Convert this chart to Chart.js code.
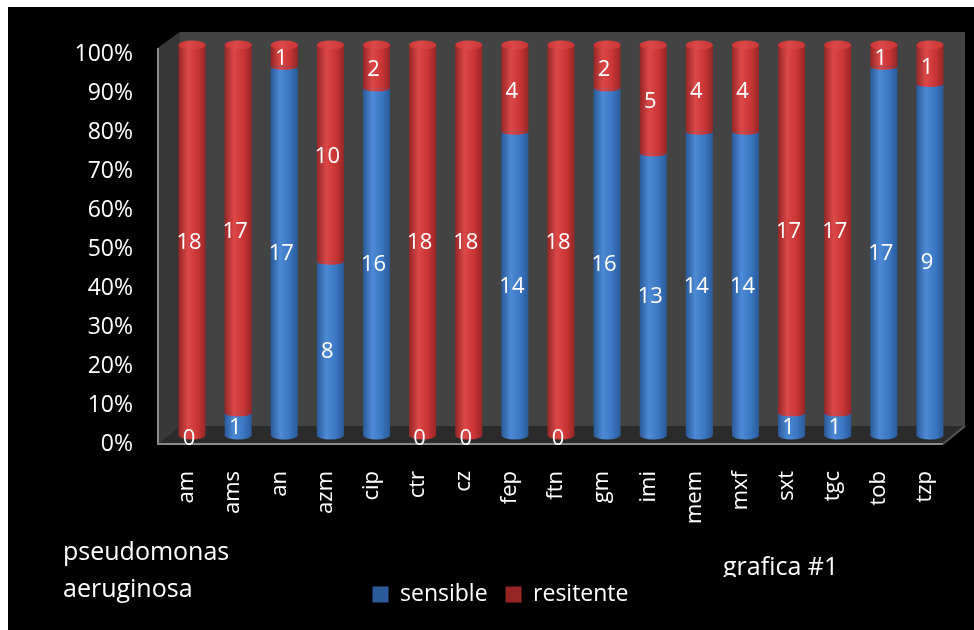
<!DOCTYPE html>
<html>
<head>
<meta charset="utf-8">
<script src="https://cdn.jsdelivr.net/npm/chart.js@4.4.1/dist/chart.umd.min.js"></script>
<style>
  html, body { margin: 0; padding: 0; background: #ffffff; }
  #frame { position: absolute; left: 8px; top: 7px; width: 966px; height: 623px; background: #000000; }
  #c { display: block; }
</style>
</head>
<body>
<div id="frame"><canvas id="c" width="966" height="623"></canvas></div>
<script>
// antibiotic codes
const categories = ['am', 'ams', 'an', 'azm', 'cip', 'ctr', 'cz', 'fep', 'ftn', 'gm', 'imi', 'mem', 'mxf', 'sxt', 'tgc', 'tob', 'tzp'];
// isolate counts per antibiotic
const sensible   = [0, 1, 17, 8, 16, 0, 0, 14, 0, 16, 13, 14, 14, 1, 1, 17, 9];
const resitente  = [18, 17, 1, 10, 2, 18, 18, 4, 18, 2, 5, 4, 4, 17, 17, 1, 1];
const seriesNames = ['sensible', 'resitente'];
const yTicks = [0, 10, 20, 30, 40, 50, 60, 70, 80, 90, 100];
const titleLines = ['pseudomonas', 'aeruginosa'];
const captionText = 'grafica #1';

const FONT = '"Open Sans", "Noto Sans", sans-serif';
const BAR_PCT = 0.586;

// share of each series in its column (100% stacked)
const totals = categories.map((_, i) => sensible[i] + resitente[i]);
const sensPct = sensible.map((v, i) => v / totals[i] * 100);
const resPct = resitente.map((v, i) => v / totals[i] * 100);
const counts = [sensible, resitente];

const palettes = [
  { base: '#3a76c2', dark: '#2a5a98', light: '#4d8ad6' },
  { base: '#c93535', dark: '#962626', light: '#dc4848' }
];

function cylGradient(chart, cx, w, pal) {
  const g = chart.ctx.createLinearGradient(cx - w / 2, 0, cx + w / 2, 0);
  g.addColorStop(0, pal.dark);
  g.addColorStop(0.35, pal.light);
  g.addColorStop(0.7, pal.base);
  g.addColorStop(1, pal.dark);
  return g;
}

function cylFill(pal) {
  return (ctx) => {
    const chart = ctx.chart;
    const xs = chart.scales && chart.scales.x;
    if (ctx.type !== 'data' || !xs || !xs.width) return pal.base;
    const cx = xs.getPixelForValue(ctx.dataIndex);
    const w = xs.width / categories.length * BAR_PCT;
    return cylGradient(chart, cx, w, pal);
  };
}

// gray 3D box behind the columns
const wallsPlugin = {
  id: 'walls',
  beforeDatasetsDraw(chart) {
    const { ctx, chartArea: a } = chart;
    const lx = a.left - 11, topL = a.top + 3, backTop = a.top - 13;
    const backL = lx + 22, backR = a.right + 12, backB = a.bottom - 9, frontB = a.bottom + 9, frontR = a.right - 10;
    ctx.save();
    ctx.fillStyle = '#434343';
    ctx.beginPath();
    ctx.moveTo(lx, topL); ctx.lineTo(backL, backTop); ctx.lineTo(backR, backTop);
    ctx.lineTo(backR, backB); ctx.lineTo(frontR, frontB); ctx.lineTo(lx, frontB);
    ctx.closePath(); ctx.fill();
    ctx.fillStyle = '#373737';
    ctx.beginPath();
    ctx.moveTo(lx, topL); ctx.lineTo(backL, backTop); ctx.lineTo(backL, backB); ctx.lineTo(lx, frontB);
    ctx.closePath(); ctx.fill();
    ctx.fillStyle = '#2b2b2b';
    ctx.beginPath();
    ctx.moveTo(lx, frontB); ctx.lineTo(backL, backB); ctx.lineTo(backR, backB); ctx.lineTo(frontR, frontB);
    ctx.closePath(); ctx.fill();
    ctx.strokeStyle = '#8a8a8a';
    ctx.lineWidth = 2;
    ctx.beginPath();
    ctx.moveTo(lx, topL); ctx.lineTo(lx, frontB); ctx.lineTo(frontR, frontB);
    ctx.stroke();
    ctx.strokeStyle = '#555555';
    ctx.beginPath();
    ctx.moveTo(frontR, frontB); ctx.lineTo(backR, backB);
    ctx.stroke();
    ctx.restore();
  }
};

// elliptical ends of the columns and the count labels
const cylinderPlugin = {
  id: 'cylinders',
  afterDatasetsDraw(chart) {
    const { ctx } = chart;
    const metas = [chart.getDatasetMeta(0), chart.getDatasetMeta(1)];
    const ry = 4.5;
    ctx.save();
    categories.forEach((_, i) => {
      const segs = metas.map(m => m.data[i]);
      const w = segs[0].width;
      const cx = segs[0].x;
      // bottom ellipse of the lowest non-empty segment
      const lowIdx = counts[0][i] > 0 ? 0 : 1;
      const low = segs[lowIdx];
      ctx.fillStyle = cylGradient(chart, cx, w, palettes[lowIdx]);
      ctx.beginPath();
      ctx.ellipse(cx, low.base, w / 2, ry, 0, 0, Math.PI);
      ctx.fill();
      // boundary between the two segments
      if (counts[0][i] > 0 && counts[1][i] > 0) {
        ctx.fillStyle = cylGradient(chart, cx, w, palettes[1]);
        ctx.beginPath();
        ctx.ellipse(cx, segs[0].y, w / 2, 3, 0, 0, Math.PI);
        ctx.fill();
      }
      // top cap
      const hiIdx = counts[1][i] > 0 ? 1 : 0;
      const hi = segs[hiIdx];
      const pal = palettes[hiIdx];
      const g = ctx.createLinearGradient(cx - w / 2, 0, cx + w / 2, 0);
      g.addColorStop(0, pal.base);
      g.addColorStop(0.4, pal.light);
      g.addColorStop(1, pal.base);
      ctx.fillStyle = g;
      ctx.beginPath();
      ctx.ellipse(cx, hi.y, w / 2, ry, 0, 0, Math.PI * 2);
      ctx.fill();
    });
    // counts
    ctx.fillStyle = '#ffffff';
    ctx.font = '22px ' + FONT;
    ctx.textAlign = 'center';
    ctx.textBaseline = 'middle';
    metas.forEach((m, d) => {
      m.data.forEach((el, i) => {
        const v = counts[d][i];
        let y;
        if (v === 0) {
          y = el.base + 4;
        } else {
          const top = Math.min(el.y, el.base), bot = Math.max(el.y, el.base);
          y = Math.max((top + bot) / 2 + 3, top + 14);
        }
        ctx.fillText(String(v), el.x - 3, y);
      });
    });
    ctx.restore();
  }
};

// organism name and chart caption
const textPlugin = {
  id: 'captions',
  afterDraw(chart) {
    const { ctx } = chart;
    ctx.save();
    ctx.fillStyle = '#ffffff';
    ctx.font = '25px ' + FONT;
    ctx.textAlign = 'left';
    ctx.textBaseline = 'middle';
    ctx.fillText(titleLines[0], 55, 546);
    ctx.fillText(titleLines[1], 55, 583);
    ctx.beginPath();
    ctx.rect(600, 530, 300, 40);
    ctx.clip();
    ctx.fillText(captionText, 715, 561);
    ctx.restore();
  }
};

new Chart(document.getElementById('c'), {
  type: 'bar',
  data: {
    labels: categories,
    datasets: [
      { label: seriesNames[0], data: sensPct, backgroundColor: cylFill(palettes[0]), borderWidth: 0 },
      { label: seriesNames[1], data: resPct, backgroundColor: cylFill(palettes[1]), borderWidth: 0 }
    ]
  },
  options: {
    responsive: false,
    animation: false,
    events: [],
    layout: { padding: { left: 40, right: 21, top: 38, bottom: 14 } },
    datasets: { bar: { barPercentage: BAR_PCT, categoryPercentage: 1 } },
    scales: {
      x: {
        stacked: true,
        grid: { display: false },
        border: { display: false },
        afterFit: (s) => { s.height = 130; s.paddingLeft = 0; s.paddingRight = 0; },
        ticks: {
          color: '#ffffff',
          font: { family: FONT, size: 22 },
          minRotation: 90, maxRotation: 90,
          padding: 28,
          labelOffset: -5,
          autoSkip: false
        }
      },
      y: {
        stacked: true,
        min: 0, max: 100,
        grid: { display: false },
        border: { display: false },
        afterFit: (s) => { s.width = 121; s.paddingTop = 0; s.paddingBottom = 0; },
        afterBuildTicks: (s) => { s.ticks = yTicks.map(v => ({ value: v })); },
        ticks: {
          color: '#ffffff',
          font: { family: FONT, size: 23 },
          padding: 28,
          labelOffset: 9,
          callback: (v) => v + '%'
        }
      }
    },
    plugins: {
      legend: {
        position: 'bottom',
        labels: {
          color: '#ffffff',
          font: { family: FONT, size: 23 },
          boxWidth: 16, boxHeight: 16,
          padding: 18
        }
      },
      tooltip: { enabled: false }
    }
  },
  plugins: [wallsPlugin, cylinderPlugin, textPlugin]
});
</script>
</body>
</html>
